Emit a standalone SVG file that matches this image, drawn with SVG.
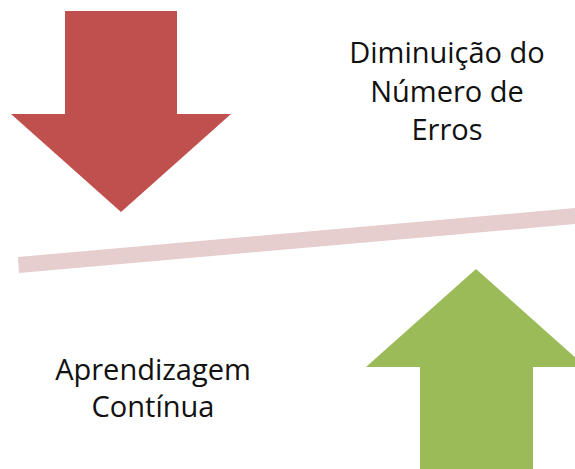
<svg xmlns="http://www.w3.org/2000/svg" width="575" height="469" viewBox="0 0 575 469">
<style>
.t{font-family:"Open Sans","Liberation Sans",sans-serif;font-size:29px;fill:#111;text-anchor:middle}
</style>
<rect width="575" height="469" fill="#fff"/>
<g id="connectors">
<polygon id="bar" points="18,257 575,208 575,224 19,273" fill="#E6CDCE"/>
</g>
<g id="red-arrow">
<polygon points="65,11 177,11 177,114 231,114 121,212 11,114 65,114" fill="#C0504D"/>
</g>
<g id="green-arrow">
<polygon points="476,269 586,367 533,367 533,469 420,469 420,367 366,367" fill="#9BBB59"/>
</g>
<g id="label-top">
<text class="t" x="447" y="63">Diminuição do</text>
<text class="t" x="447" y="102">Número de</text>
<text class="t" x="447" y="140">Erros</text>
</g>
<g id="label-bottom">
<text class="t" x="153" y="380">Aprendizagem</text>
<text class="t" x="153" y="417">Contínua</text>
</g>
</svg>
